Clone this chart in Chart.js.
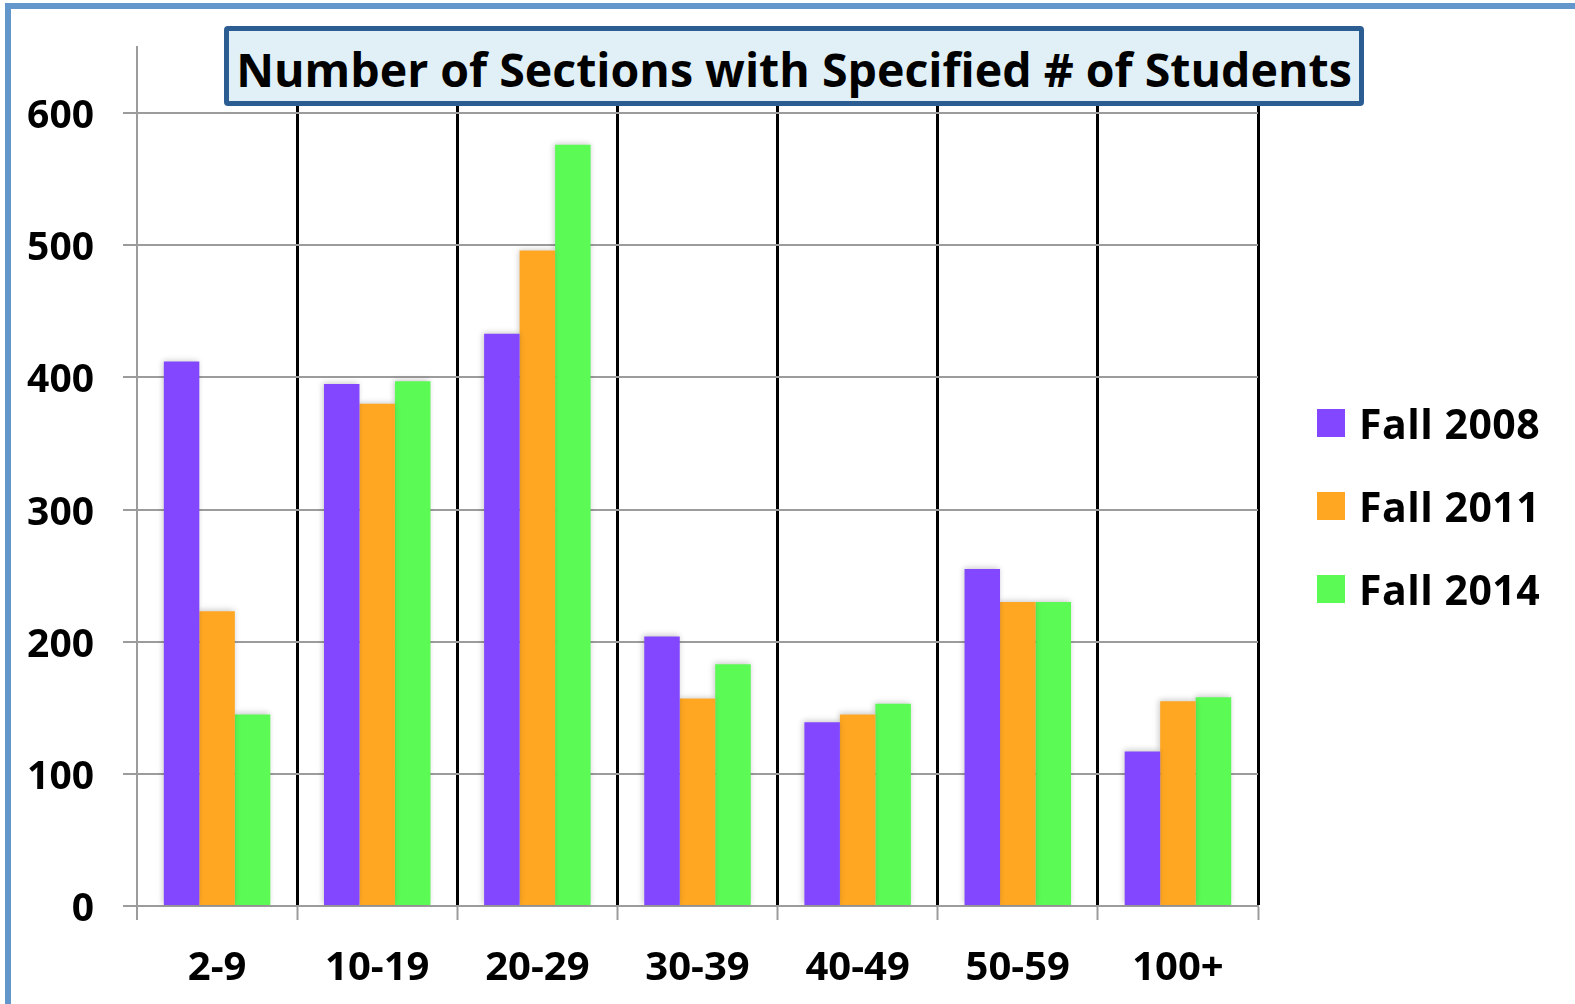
<!DOCTYPE html>
<html>
<head>
<meta charset="utf-8">
<script src="https://cdn.jsdelivr.net/npm/chart.js@4/dist/chart.umd.min.js"></script>
<style>
    html, body { margin: 0; padding: 0; background: #fff; }
    #wrap { position: relative; width: 1575px; height: 1004px; overflow: hidden; font-family: "Open Sans", sans-serif; }
    #frame { position: absolute; left: 5px; top: 3px; width: 1700px; height: 1100px; border-left: 6px solid #6397cc; border-top: 6px solid #6397cc; }
    #myChart { position: absolute; left: 0; top: 0; }
    #chartTitle {
        position: absolute; left: 224px; top: 26px; width: 1140px; height: 80px; box-sizing: border-box;
        border: 5px solid #2c5d92; border-radius: 4px; background: #e1eff7;
        font: bold 46.5px "Open Sans", sans-serif; color: #000; text-align: center; line-height: 76px; white-space: nowrap;
    }
    #legend1 { position: absolute; left: 1317px; top: 398px; }
    .chart-legend-item { display: flex; align-items: center; height: 50px; margin-bottom: 33px; font: bold 41px "Open Sans", sans-serif; color: #000; letter-spacing: 0.5px; }
</style>
</head>
<body>
<div id="wrap">
    <div id="frame"></div>
    <canvas id="myChart" width="1575" height="1004"></canvas>
    <div id="chartTitle">Number of Sections with Specified # of Students</div>
    <div id="legend1"></div>
</div>
<script>
const titleText = 'Number of Sections with Specified # of Students';
const categories = ['2-9', '10-19', '20-29', '30-39', '40-49', '50-59', '100+'];
const seriesNames = ['Fall 2008', 'Fall 2011', 'Fall 2014'];
const fall2008 = [412, 395, 433, 204, 139, 255, 117];
const fall2011 = [223, 380, 496, 157, 145, 230, 155];
const fall2014 = [145, 397, 576, 183, 153, 230, 158];
const colors = ['#8247ff', '#ffa722', '#5bfa55'];
const yTicks = [0, 100, 200, 300, 400, 500, 600];

const GREY = '#9c9c9c';

// лёгкая тень под столбцами
const barShadow = {
    id: 'barShadow',
    beforeDatasetsDraw(chart) {
        const ctx = chart.ctx;
        ctx.save();
        ctx.shadowColor = 'rgba(0, 0, 0, 0.22)';
        ctx.shadowBlur = 6;
        ctx.shadowOffsetX = -1;
        ctx.shadowOffsetY = -1;
    },
    afterDatasetsDraw(chart) {
        chart.ctx.restore();
    }
};

function renderChart(chartId, data) {
    const canvas = document.getElementById(chartId);
    if (!canvas) {
        console.error('canvas ' + chartId + ' not found');
        return;
    }
    return new Chart(canvas, {
        type: 'bar',
        data: data,
        plugins: [barShadow],
        options: {
            responsive: false,
            animation: false,
            layout: { padding: { left: 0, right: 317, top: 47, bottom: 0 } },
            datasets: { bar: { categoryPercentage: 0.665, barPercentage: 1.0, borderWidth: 0 } },
            plugins: {
                legend: { display: false },
                title: { display: false },
                tooltip: { enabled: false }
            },
            scales: {
                x: {
                    offset: true,
                    grid: {
                        offset: true,
                        color: (c) => c.index === 0 ? GREY : '#000',
                        lineWidth: (c) => c.index === 0 ? 2 : 3,
                        tickColor: GREY,
                        tickWidth: 2,
                        tickLength: 14
                    },
                    border: { color: GREY, width: 2 },
                    ticks: { color: '#000', padding: 25, font: { family: 'Open Sans', weight: 'bold', size: 40 } },
                    afterFit(scale) { scale.height = 98; }
                },
                y: {
                    min: 0,
                    max: 650,
                    afterBuildTicks(scale) {
                        scale.ticks = yTicks.map(v => ({ value: v }));
                    },
                    grid: { color: GREY, lineWidth: 2, tickColor: GREY, tickLength: 14 },
                    border: { color: GREY, width: 2 },
                    ticks: { color: '#000', padding: 29, labelOffset: 4, font: { family: 'Open Sans', weight: 'bold', size: 39 } },
                    afterFit(scale) {
                        scale.width = 137;
                        scale.paddingTop = 0; // верхняя метка 600 не на краю, лишний отступ не нужен
                    }
                }
            }
        }
    });
}

function renderLegend(legendId, data) {
    const legendContainer = document.getElementById(legendId);
    legendContainer.innerHTML = '';
    data.datasets.forEach((ds) => {
        const legendItem = document.createElement('div');
        legendItem.classList.add('chart-legend-item');

        const colorBox = document.createElement('span');
        colorBox.style.display = 'inline-block';
        colorBox.style.width = '28px';
        colorBox.style.height = '28px';
        colorBox.style.backgroundColor = ds.backgroundColor;
        colorBox.style.marginRight = '14px';

        const labelText = document.createElement('span');
        labelText.textContent = ds.label;

        legendItem.appendChild(colorBox);
        legendItem.appendChild(labelText);
        legendContainer.appendChild(legendItem);
    });
}

const seriesValues = [fall2008, fall2011, fall2014];
const chartData = {
    labels: categories,
    datasets: seriesNames.map((name, i) => ({
        label: name,
        data: seriesValues[i],
        backgroundColor: colors[i]
    }))
};

document.getElementById('chartTitle').textContent = titleText;
renderChart('myChart', chartData);
renderLegend('legend1', chartData);
</script>
</body>
</html>
